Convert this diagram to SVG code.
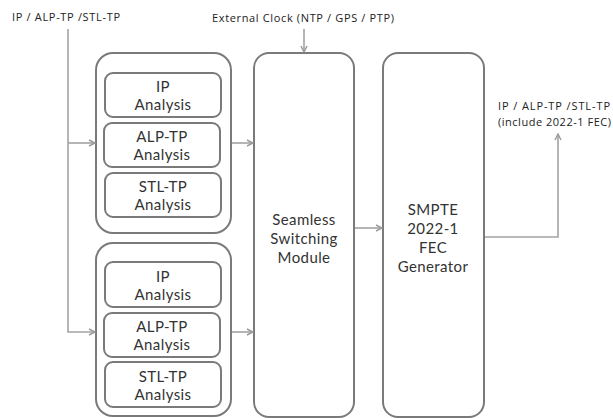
<svg xmlns="http://www.w3.org/2000/svg" width="613" height="418" viewBox="0 0 613 418">
  <defs>
    <marker id="arrow" viewBox="0 0 8 8" refX="7" refY="4" markerWidth="8" markerHeight="8" markerUnits="userSpaceOnUse" orient="auto">
      <path d="M1,1 L7,4 L1,7" fill="none" stroke="#9a9a9a" stroke-width="1.4"/>
    </marker>
    <style>
      .box { fill: #ffffff; stroke: #7a7a7a; stroke-width: 2; }
      .wire { fill: none; stroke: #a3a3a3; stroke-width: 1.6; }
      .lbl { font-family: "Open Sans", "Noto Sans", "Liberation Sans", sans-serif; font-size: 11px; fill: #222; }
      .txt { font-family: Lato, "Open Sans", "Liberation Sans", sans-serif; font-size: 15px; letter-spacing: 0.4px; fill: #333; text-anchor: middle; }
    </style>
  </defs>
  <rect width="613" height="418" fill="#ffffff"/>

  <!-- free labels -->
  <text class="lbl" x="12" y="21" textLength="108" lengthAdjust="spacing">IP / ALP-TP /STL-TP</text>
  <text class="lbl" x="212" y="22" textLength="182" lengthAdjust="spacing">External Clock (NTP / GPS / PTP)</text>
  <text class="lbl" x="498" y="110" textLength="112" lengthAdjust="spacing">IP / ALP-TP /STL-TP</text>
  <text class="lbl" x="498" y="126" textLength="113" lengthAdjust="spacing">(include 2022-1 FEC)</text>

  <!-- first analysis bank -->
  <g id="bank1">
    <rect class="box" x="96" y="53" width="135" height="180" rx="17"/>
    <g id="ip1">
      <rect class="box" x="105" y="73" width="116" height="44" rx="8"/>
      <text class="txt" x="163" y="92">IP</text>
      <text class="txt" x="163" y="110">Analysis</text>
    </g>
    <g id="alp1">
      <rect class="box" x="104" y="123" width="116" height="44" rx="8"/>
      <text class="txt" x="162" y="142">ALP-TP</text>
      <text class="txt" x="162" y="160">Analysis</text>
    </g>
    <g id="stl1">
      <rect class="box" x="105" y="173" width="116" height="44" rx="8"/>
      <text class="txt" x="163" y="192">STL-TP</text>
      <text class="txt" x="163" y="210">Analysis</text>
    </g>
  </g>

  <!-- second analysis bank -->
  <g id="bank2">
    <rect class="box" x="96" y="243" width="135" height="173" rx="17"/>
    <g id="ip2">
      <rect class="box" x="105" y="262" width="116" height="45" rx="8"/>
      <text class="txt" x="163" y="282">IP</text>
      <text class="txt" x="163" y="300">Analysis</text>
    </g>
    <g id="alp2">
      <rect class="box" x="104" y="313" width="116" height="44" rx="8"/>
      <text class="txt" x="162" y="332">ALP-TP</text>
      <text class="txt" x="162" y="350">Analysis</text>
    </g>
    <g id="stl2">
      <rect class="box" x="105" y="362" width="116" height="45" rx="8"/>
      <text class="txt" x="163" y="382">STL-TP</text>
      <text class="txt" x="163" y="400">Analysis</text>
    </g>
  </g>

  <g id="switch">
    <rect class="box" x="254" y="53" width="100" height="364" rx="15"/>
    <text class="txt" x="304" y="225">Seamless</text>
    <text class="txt" x="304" y="244">Switching</text>
    <text class="txt" x="304" y="263">Module</text>
  </g>

  <g id="fec">
    <rect class="box" x="383" y="53" width="101" height="364" rx="15"/>
    <text class="txt" x="433" y="215">SMPTE</text>
    <text class="txt" x="433" y="234">2022-1</text>
    <text class="txt" x="433" y="253">FEC</text>
    <text class="txt" x="433" y="272">Generator</text>
  </g>

  <g id="connectors">
    <polyline class="wire" points="68,29 68,332 95,332" marker-end="url(#arrow)"/>
    <line class="wire" x1="68" y1="143" x2="95" y2="143" marker-end="url(#arrow)"/>
    <line class="wire" x1="304" y1="29" x2="304" y2="52" marker-end="url(#arrow)"/>
    <line class="wire" x1="232" y1="143" x2="253" y2="143" marker-end="url(#arrow)"/>
    <line class="wire" x1="232" y1="332" x2="253" y2="332" marker-end="url(#arrow)"/>
    <line class="wire" x1="355" y1="228" x2="382" y2="228" marker-end="url(#arrow)"/>
    <polyline class="wire" points="485,237 558,237 558,134" marker-end="url(#arrow)"/>
  </g>
</svg>
